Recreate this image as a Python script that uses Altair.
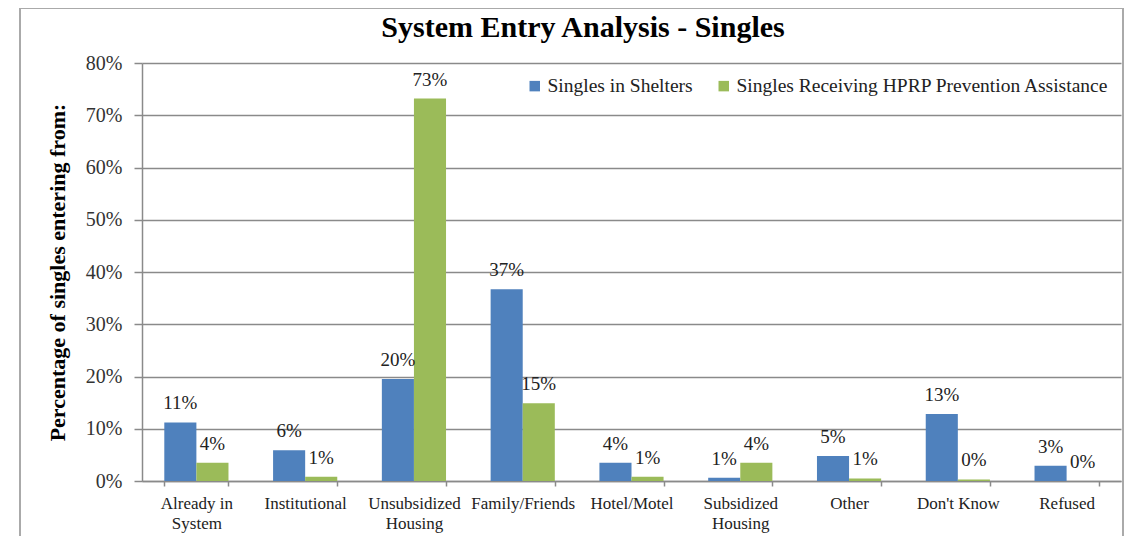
import altair as alt
import pandas as pd

categories = ["Already in System", "Institutional", "Unsubsidized Housing",
              "Family/Friends", "Hotel/Motel", "Subsidized Housing",
              "Other", "Don't Know", "Refused"]
series = ["Singles in Shelters", "Singles Receiving HPRP Prevention Assistance"]
shelters = [11.2, 5.9, 19.5, 36.7, 3.5, 0.6, 4.8, 12.8, 2.9]
hprp = [3.5, 0.8, 73.2, 14.9, 0.8, 3.5, 0.5, 0.3, 0.0]
colors = ["#4F81BD", "#9BBB59"]
y_ticks = [0, 0.1, 0.2, 0.3, 0.4, 0.5, 0.6, 0.7, 0.8]
title_text = ["System Entry Analysis - Singles"]
line_breaks = {"Already in System": ["Already in", "System"],
               "Unsubsidized Housing": ["Unsubsidized", "Housing"],
               "Subsidized Housing": ["Subsidized", "Housing"]}

rows = []
for i, c in enumerate(categories):
    rows.append({"category": c, "series": series[0], "value": shelters[i]})
    rows.append({"category": c, "series": series[1], "value": hprp[i]})
df = pd.DataFrame(rows)

label_expr = ""
for k, v in line_breaks.items():
    label_expr += "datum.value == \"%s\" ? [\"%s\", \"%s\"] : " % (k, v[0], v[1])
label_expr += "datum.value"

FONT = "Liberation Serif"
GRID = "#8a8a8a"

base = alt.Chart(df).transform_calculate(
    pct="datum.value / 100",
    label="round(datum.value) + '%'"
).encode(
    x=alt.X("category:N", sort=categories,
            scale=alt.Scale(paddingInner=0.41, paddingOuter=0.205),
            axis=alt.Axis(title=None, labelAngle=0, tickBand="extent",
                          labelExpr=label_expr, labelFont=FONT, labelFontSize=17,
                          labelColor="#222", labelLineHeight=20, labelPadding=9,
                          tickSize=5, tickColor=GRID, domainColor=GRID,
                          domainWidth=1.5, tickWidth=1.5, labelBaseline="top")),
    xOffset=alt.XOffset("series:N", sort=series),
    y=alt.Y("pct:Q", scale=alt.Scale(domain=[0, 0.8]),
            axis=alt.Axis(title="Percentage of singles entering from:",
                          values=y_ticks, format=".0%", grid=True,
                          gridColor=GRID, gridWidth=1.5, domainColor=GRID,
                          domainWidth=1.5, tickColor=GRID, tickWidth=1.5,
                          tickSize=8, labelPadding=12, labelFont=FONT,
                          labelFontSize=20, labelColor="#333",
                          titleFont=FONT, titleFontSize=22, titleFontWeight="bold",
                          titleColor="#000", titlePadding=16)),
)

bars = base.mark_bar().encode(
    color=alt.Color("series:N", sort=series,
                    scale=alt.Scale(domain=series, range=colors),
                    legend=alt.Legend(title=None, orient="none", legendX=383,
                                      legendY=13, direction="horizontal",
                                      symbolType="square", symbolSize=110,
                                      symbolStrokeWidth=0,
                                      labelFont=FONT, labelFontSize=19.5,
                                      labelColor="#222", columnPadding=21,
                                      padding=0, labelOffset=3,
                                      labelLimit=500))
)

labels = base.mark_text(baseline="bottom", dy=-9, font=FONT, fontSize=19,
                        color="#222").encode(text="label:N")

frame = alt.Chart(pd.DataFrame({"a": [0]})).mark_rect(
    fill="transparent", stroke="#aaaaaa", strokeWidth=2
).encode(x=alt.value(-122), x2=alt.value(981), y=alt.value(-55), y2=alt.value(540))

title = alt.Chart(pd.DataFrame({"t": title_text})).mark_text(
    font=FONT, fontSize=30, fontWeight="bold", color="#000",
    align="center", baseline="alphabetic"
).encode(x=alt.value(441), y=alt.value(-26), text="t:N")

chart = alt.layer(frame, bars, labels, title).properties(
    width=979, height=418,
    autosize=alt.AutoSizeParams(type="none"),
    padding={"left": 134, "top": 55, "right": 3, "bottom": 62},
).configure_view(strokeWidth=0)

chart.save("out.html", embed_options={"renderer": "svg", "actions": False})
